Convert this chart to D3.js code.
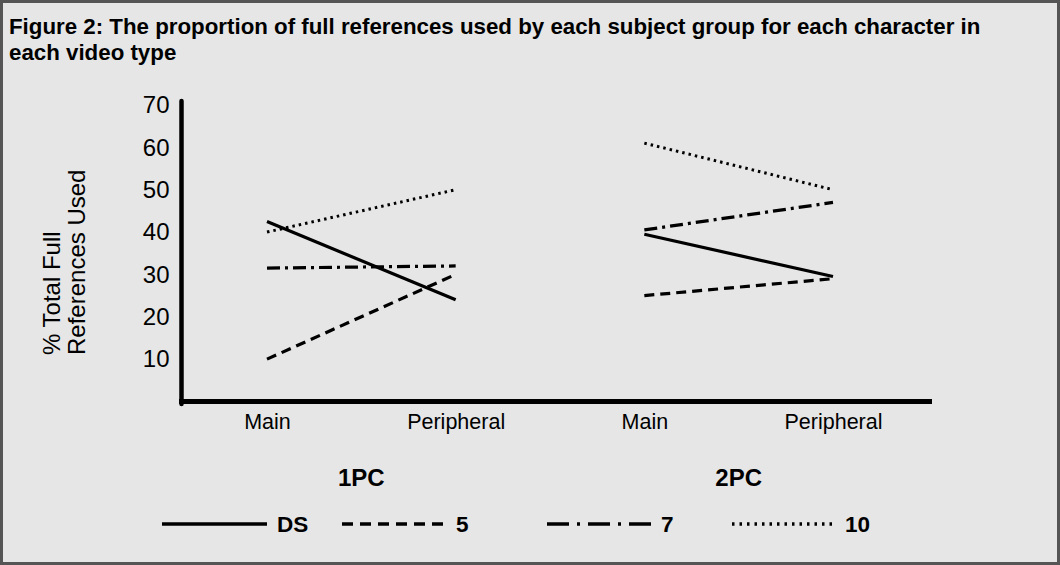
<!DOCTYPE html>
<html>
<head>
<meta charset="utf-8">
<script src="https://cdn.jsdelivr.net/npm/d3@7"></script>
<style>
  html, body { margin: 0; padding: 0; background: #e6e6e6; }
  svg { display: block; font-family: "Liberation Sans", Arial, sans-serif; }
</style>
</head>
<body>
<svg id="chart" width="1060" height="565"></svg>
<script>
// data
const videoTypes = ["1PC", "2PC"];
const characters = ["Main", "Peripheral"];
const groups = ["DS", "5", "7", "10"];
const dsValues = [42.5, 24, 39.5, 29.5];
const fiveValues = [10, 30, 25, 29];
const sevenValues = [31.5, 32, 40.5, 47];
const tenValues = [40, 50, 61, 50];
const yTicks = [10, 20, 30, 40, 50, 60, 70];

const seriesValues = [dsValues, fiveValues, sevenValues, tenValues];
const dashes = ["none", "10,6", "13,5,3,5", "2.5,4"];
const legendDashes = ["none", "11,7", "22,8,3,8", "2.5,5"];

const svg = d3.select("#chart");
const W = 1060, H = 565;

// frame
svg.append("rect")
    .attr("x", 1.5).attr("y", 1.5)
    .attr("width", W - 3).attr("height", H - 3)
    .attr("fill", "#e6e6e6")
    .attr("stroke", "#555").attr("stroke-width", 3);

// title
const title = svg.append("text")
    .attr("font-weight", "bold").attr("font-size", 22.3);
title.append("tspan").attr("x", 9).attr("y", 34)
    .text("Figure 2: The proportion of full references used by each subject group for each character in");
title.append("tspan").attr("x", 9).attr("y", 60).text("each video type");

// scales
const keys = [];
videoTypes.forEach(v => characters.forEach(c => keys.push(v + "|" + c)));
const x = d3.scalePoint().domain(keys).range([267, 833]);
const y = d3.scaleLinear().domain([0, 70]).range([401.5, 105]);

// y axis
const yAxis = svg.append("g")
    .attr("transform", "translate(181.5,0)")
    .call(d3.axisLeft(y).tickValues(yTicks).tickSize(0).tickPadding(12));
yAxis.select(".domain").remove();
yAxis.selectAll("text")
    .attr("font-size", 24).attr("fill", "#000")
    .attr("font-family", "Liberation Sans, Arial, sans-serif");

svg.append("line")
    .attr("x1", 181.5).attr("x2", 181.5)
    .attr("y1", 101).attr("y2", 404)
    .attr("stroke", "#000").attr("stroke-width", 4.5).attr("stroke-linecap", "round");

// x axis
const xAxis = svg.append("g")
    .attr("transform", "translate(0,401.5)")
    .call(d3.axisBottom(x).tickSize(0).tickPadding(12).tickFormat(d => d.split("|")[1]));
xAxis.select(".domain").remove();
xAxis.selectAll("text")
    .attr("font-size", 21.5).attr("fill", "#000")
    .attr("font-family", "Liberation Sans, Arial, sans-serif");

svg.append("line")
    .attr("x1", 179).attr("x2", 932)
    .attr("y1", 401.5).attr("y2", 401.5)
    .attr("stroke", "#000").attr("stroke-width", 5);

// y axis title
const yTitle = svg.append("text")
    .attr("transform", "translate(0,355) rotate(-90)")
    .attr("font-size", 24).attr("fill", "#000");
yTitle.append("tspan").attr("x", 0).attr("y", 60).text("% Total Full");
yTitle.append("tspan").attr("x", 0).attr("y", 85).text("References Used");

// series lines, one segment per video type
const line = d3.line().x(d => x(d.key)).y(d => y(d.value));
groups.forEach((g, gi) => {
    videoTypes.forEach((v, vi) => {
        const pts = characters.map((c, ci) => ({
            key: v + "|" + c,
            value: seriesValues[gi][vi * 2 + ci]
        }));
        svg.append("path")
            .datum(pts)
            .attr("d", line)
            .attr("fill", "none")
            .attr("stroke", "#000")
            .attr("stroke-width", gi === 3 ? 3 : 3.2)
            .attr("stroke-dasharray", dashes[gi]);
    });
});

// video type labels
videoTypes.forEach(v => {
    const cx = (x(v + "|" + characters[0]) + x(v + "|" + characters[1])) / 2;
    svg.append("text")
        .attr("x", cx).attr("y", 486)
        .attr("text-anchor", "middle")
        .attr("font-weight", "bold").attr("font-size", 24)
        .text(v);
});

// legend
const legendX = [162, 342, 547, 732];
const legendW = [105, 104, 104, 103];
groups.forEach((g, gi) => {
    svg.append("line")
        .attr("x1", legendX[gi]).attr("x2", legendX[gi] + legendW[gi])
        .attr("y1", 524).attr("y2", 524)
        .attr("stroke", "#000").attr("stroke-width", 3.5)
        .attr("stroke-dasharray", legendDashes[gi]);
    svg.append("text")
        .attr("x", legendX[gi] + legendW[gi] + 10).attr("y", 532)
        .attr("font-weight", "bold").attr("font-size", 22.5)
        .text(g);
});
</script>
</body>
</html>
